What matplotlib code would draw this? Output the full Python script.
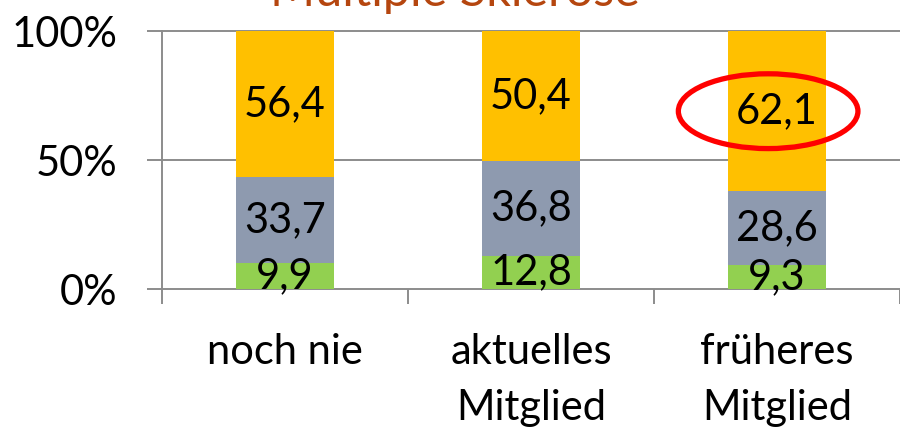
import matplotlib
matplotlib.use("Agg")
import matplotlib.pyplot as plt
from matplotlib.patches import Ellipse

plt.rcParams['font.family'] = ['Lato', 'DejaVu Sans']

# data
categories = ["noch nie", "aktuelles\nMitglied", "früheres\nMitglied"]
green_vals = [9.9, 12.8, 9.3]
gray_vals = [33.7, 36.8, 28.6]
orange_vals = [56.4, 50.4, 62.1]
y_ticks = [0, 50, 100]
y_labels = ["0%", "50%", "100%"]
title = "Multiple Sklerose"

c_green = "#92D050"
c_gray = "#8E9AAF"
c_orange = "#FFC000"
grid_c = "#8C8C8C"
fs = 30

fig = plt.figure(figsize=(9, 4.32), dpi=100)
ax = fig.add_axes([0.18, 0.331, 0.82, 0.597])

x = list(range(len(categories)))
w = 0.4
bottom2 = [g for g in green_vals]
bottom3 = [g + m for g, m in zip(green_vals, gray_vals)]
ax.bar(x, green_vals, w, color=c_green, zorder=2)
ax.bar(x, gray_vals, w, bottom=bottom2, color=c_gray, zorder=2)
ax.bar(x, orange_vals, w, bottom=bottom3, color=c_orange, zorder=2)

def lab(v):
    return f"{v:.1f}".replace(".", ",")

for i in x:
    ax.text(i, green_vals[i] / 2, lab(green_vals[i]), ha='center', va='center', fontsize=fs, zorder=4)
    ax.text(i, bottom2[i] + gray_vals[i] / 2, lab(gray_vals[i]), ha='center', va='center', fontsize=fs, zorder=4)
    ax.text(i, bottom3[i] + orange_vals[i] / 2, lab(orange_vals[i]), ha='center', va='center', fontsize=fs, zorder=4)

# highlight ellipse around the last orange label
ax.add_patch(Ellipse((2 - 0.036, bottom3[2] + orange_vals[2] / 2), 0.73, 29,
                     fill=False, edgecolor='#FF0000', linewidth=3.8, zorder=5, clip_on=False))

ax.set_xlim(-0.5, len(categories) - 0.5)
ax.set_ylim(0, 100)
ax.set_yticks(y_ticks)
ax.set_yticklabels(y_labels, fontsize=fs)
ax.set_xticks([i - 0.5 for i in range(len(categories) + 1)])
ax.set_xticklabels([])
ax.set_xticks(x, minor=True)
ax.set_xticklabels(categories, minor=True, fontsize=fs, linespacing=1.55)
ax.tick_params(axis='x', which='minor', length=0, pad=32)
ax.tick_params(axis='x', which='major', length=11, width=1.4, color=grid_c)
ax.tick_params(axis='y', length=11, width=1.4, color=grid_c, pad=21)
for y in y_ticks:
    ax.axhline(y, color=grid_c, linewidth=1.4, zorder=1, clip_on=False)
for s in ['top', 'right', 'bottom']:
    ax.spines[s].set_visible(False)
ax.spines['left'].set_color(grid_c)
ax.spines['left'].set_linewidth(1.4)

fig.text(0.505, 0.986, title, ha='center', va='baseline', fontsize=35, color='#B5460F')

fig.savefig("out.png", dpi=100)
